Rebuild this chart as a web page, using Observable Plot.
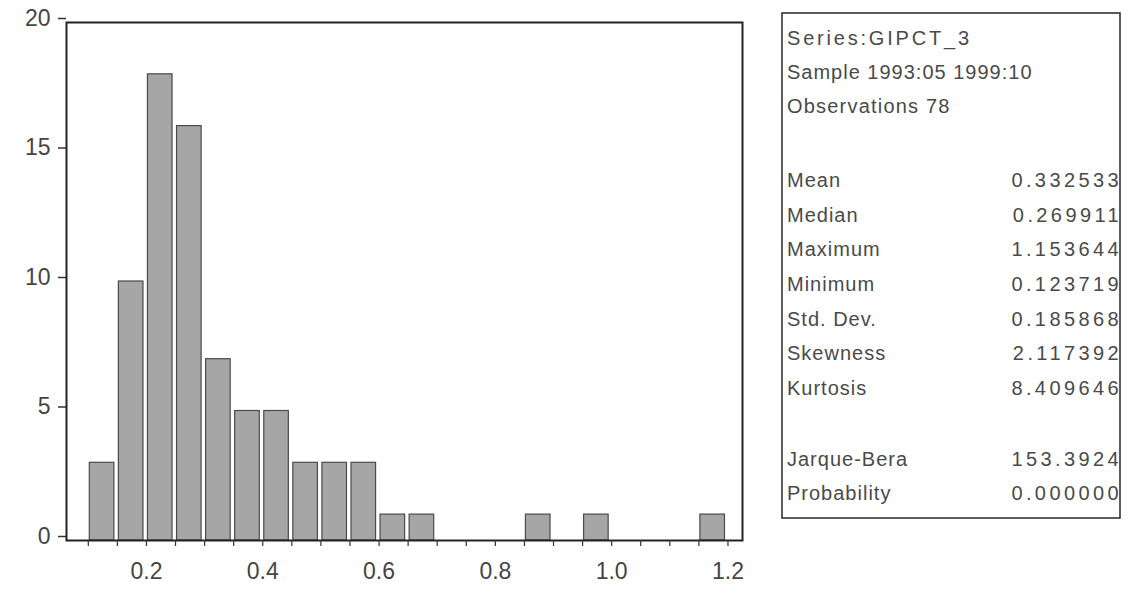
<!DOCTYPE html>
<html>
<head>
<meta charset="utf-8">
<script src="https://cdn.jsdelivr.net/npm/d3@7"></script>
<script src="https://cdn.jsdelivr.net/npm/@observablehq/plot@0.6"></script>
<style>
  html, body { margin: 0; padding: 0; background: #fff; }
  #wrap { position: relative; width: 1129px; height: 594px; overflow: hidden; }
  #chart { position: absolute; left: 0; top: 0; }
  #stats { position: absolute; left: 0; top: 0; }
</style>
</head>
<body>
<div id="wrap">
  <div id="chart"></div>
  <svg id="stats" width="1129" height="594"></svg>
</div>
<script>
// ---- data ----
const binStarts = [0.10, 0.15, 0.20, 0.25, 0.30, 0.35, 0.40, 0.45, 0.50, 0.55, 0.60, 0.65, 0.85, 0.95, 1.15];
const binWidth = 0.05;
const counts    = [3, 10, 18, 16, 7, 5, 5, 3, 3, 3, 1, 1, 1, 1, 1];

const yTicks = [0, 5, 10, 15, 20];
const xMinorTicks = [0.10, 0.15, 0.20, 0.25, 0.30, 0.35, 0.40, 0.45, 0.50, 0.55, 0.60, 0.65,
                     0.70, 0.75, 0.80, 0.85, 0.90, 0.95, 1.00, 1.05, 1.10, 1.15, 1.20];
const xLabelTicks = [0.2, 0.4, 0.6, 0.8, 1.0, 1.2];

const headerLines = ["Series:GIPCT_3", "Sample 1993:05 1999:10", "Observations 78"];
const statLabels = ["Mean", "Median", "Maximum", "Minimum", "Std. Dev.", "Skewness", "Kurtosis", "Jarque-Bera", "Probability"];
const statValues = ["0.332533", "0.269911", "1.153644", "0.123719", "0.185868", "2.117392", "8.409646", "153.3924", "0.000000"];

// ---- histogram ----
const bins = binStarts.map((x0, i) => ({x0, x1: x0 + binWidth, count: counts[i]}));

const ink = "#454545";
const chart = Plot.plot({
  width: 760,
  height: 594,
  marginLeft: 66,
  marginRight: 18,
  marginTop: 22,
  marginBottom: 54,
  x: {domain: [0.0625, 1.225]},
  y: {domain: [0, 20]},
  style: {fontFamily: "'Liberation Sans', Arial, sans-serif", fontSize: "23px", color: ink, background: "transparent"},
  marks: [
    Plot.rectY(bins, {x1: "x0", x2: "x1", y: "count", fill: "#a6a6a6", stroke: "#4a4a4a", strokeWidth: 1.2, insetLeft: 1.5, insetRight: 3}),
    Plot.frame({stroke: "#222", strokeWidth: 2}),
    Plot.axisY({ticks: yTicks, tickSize: 8, tickPadding: 8, dy: -4, fontSize: 23, stroke: "#333", strokeWidth: 1.5, fill: ink, label: null}),
    Plot.axisX({ticks: xMinorTicks, tickSize: 6, tickFormat: () => "", stroke: "#333", strokeWidth: 1.2, label: null}),
    Plot.axisX({ticks: xLabelTicks, tickSize: 0, tickPadding: 22, tickFormat: d3.format(".1f"), fontSize: 23, fill: ink, label: null})
  ]
});
document.getElementById("chart").appendChild(chart);

// ---- statistics box ----
const svg = d3.select("#stats");
const boxL = 782, boxT = 13, boxR = 1120, boxB = 518;
svg.append("rect")
  .attr("x", boxL).attr("y", boxT)
  .attr("width", boxR - boxL).attr("height", boxB - boxT)
  .attr("fill", "none").attr("stroke", "#333").attr("stroke-width", 1.6);

const txtColor = "#4a4a4a";
const font = "'Liberation Sans', Arial, sans-serif";
const headerBaselines = [45, 79, 113];
const headerSpacing = [2.8, 1, 1.2];
headerLines.forEach((t, i) => {
  svg.append("text")
    .attr("x", boxL + 5).attr("y", headerBaselines[i])
    .attr("font-family", font).attr("font-size", 20)
    .attr("letter-spacing", headerSpacing[i])
    .attr("fill", txtColor).text(t);
});
const statBaselines = [187, 222, 256, 291, 326, 360, 395, 466, 500];
statLabels.forEach((t, i) => {
  svg.append("text")
    .attr("x", boxL + 5).attr("y", statBaselines[i])
    .attr("font-family", font).attr("font-size", 20)
    .attr("letter-spacing", 1)
    .attr("fill", txtColor).text(t);
  svg.append("text")
    .attr("x", boxR + 2).attr("y", statBaselines[i])
    .attr("text-anchor", "end")
    .attr("font-family", font).attr("font-size", 20)
    .attr("letter-spacing", 3.4)
    .attr("fill", txtColor).text(statValues[i]);
});
</script>
</body>
</html>
